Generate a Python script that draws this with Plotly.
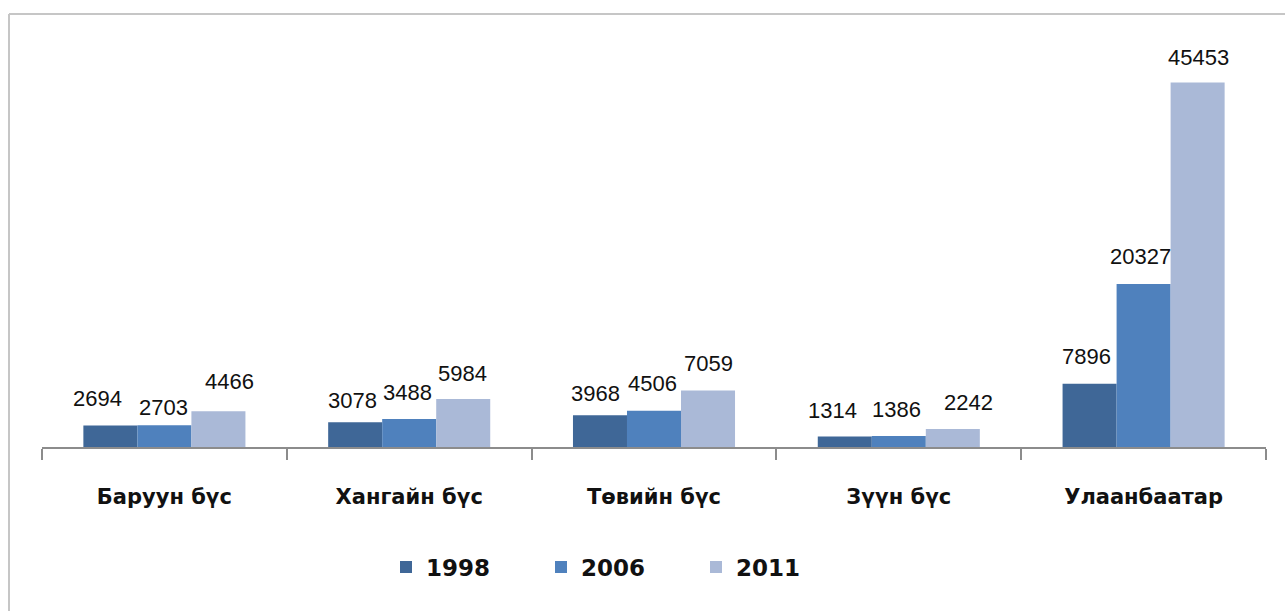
import plotly.graph_objects as go

# Regions and counts per survey year
regions = ["Баруун бүс", "Хангайн бүс", "Төвийн бүс", "Зүүн бүс", "Улаанбаатар"]
years = ["1998", "2006", "2011"]
v1998 = [2694, 3078, 3968, 1314, 7896]
v2006 = [2703, 3488, 4506, 1386, 20327]
v2011 = [4466, 5984, 7059, 2242, 45453]

series = [v1998, v2006, v2011]
colors = ["#3F6797", "#4F81BD", "#AAB9D7"]

# Page geometry (px)
W, H = 1285, 611
ML, MR, MT, MB = 42, 19, 46, 164
PW, PH = W - ML - MR, H - MT - MB
BARGAP = 0.338
BAR_W = PW / len(regions) * (1 - BARGAP) / len(years)

# Small label nudges (px) so neighbouring value labels don't collide
label_dx = [
    [-11, -1, -2, -10, -1],
    [1, 0, 0, 0, -1],
    [13, 1, 2, 18, 3],
]
label_dy = [
    [27, 22, 22, 26, 27],
    [18, 27, 27, 26, 27],
    [30, 26, 27, 27, 25],
]

fig = go.Figure()
for k, (yr, vals, col) in enumerate(zip(years, series, colors)):
    fig.add_trace(go.Bar(
        name=yr, x=regions, y=vals,
        marker=dict(color=col, line=dict(width=0)),
    ))

annotations = []
for k, vals in enumerate(series):
    for i, (reg, v) in enumerate(zip(regions, vals)):
        annotations.append(dict(
            x=reg, y=v, xref="x", yref="y", text=str(v), showarrow=False,
            xanchor="center", yanchor="middle",
            xshift=(k - 1) * BAR_W + label_dx[k][i] - 2,
            yshift=label_dy[k][i],
            font=dict(family="Liberation Sans", size=22, color="#111111"),
        ))

# Outer chart frame (only the top and left edges fall inside the page)
def px_x(px):
    return (px - ML) / PW

def px_y(py):
    return (H - MB - py) / PH

frame = dict(color="#C6C6C6", width=2)
shapes = [
    dict(type="line", xref="paper", yref="paper",
         x0=px_x(9), x1=px_x(W + 5), y0=px_y(14), y1=px_y(14), line=frame),
    dict(type="line", xref="paper", yref="paper",
         x0=px_x(9), x1=px_x(9), y0=px_y(14), y1=px_y(H + 5), line=frame),
]

fig.update_layout(
    width=W, height=H,
    margin=dict(l=ML, r=MR, t=MT, b=MB, pad=0),
    paper_bgcolor="white", plot_bgcolor="white",
    barmode="group", bargap=BARGAP, bargroupgap=0,
    annotations=annotations, shapes=shapes,
    showlegend=True,
    legend=dict(
        orientation="h", x=px_x(386), xanchor="left",
        y=px_y(567), yanchor="middle",
        font=dict(family="DejaVu Sans", size=23, color="#111111", weight="bold"),
        entrywidth=110, entrywidthmode="pixels",
        bgcolor="rgba(0,0,0,0)",
    ),
    xaxis=dict(
        type="category", showgrid=False, zeroline=False,
        showline=True, linecolor="#8C8C8C", linewidth=1.5,
        ticks="outside", tickson="boundaries", ticklen=11,
        tickcolor="#8C8C8C", tickwidth=1.5,
        ticklabelstandoff=30,
        tickfont=dict(family="DejaVu Sans", size=21, color="#111111", weight="bold"),
        range=[-0.5, len(regions) - 0.5],
    ),
    yaxis=dict(
        range=[0, 50000], visible=False, showgrid=False, zeroline=False,
    ),
)

fig.write_html("out.html")
